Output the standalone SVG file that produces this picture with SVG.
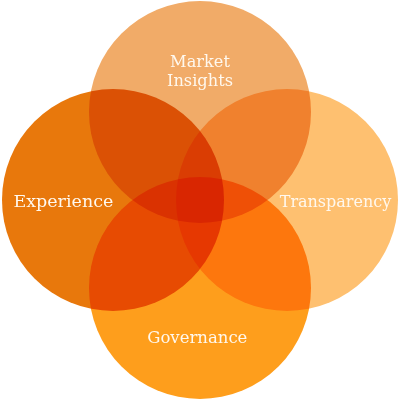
<svg xmlns="http://www.w3.org/2000/svg" width="400" height="400" viewBox="0 0 400 400">
<style>
.c{mix-blend-mode:multiply}
.t{font-family:"DejaVu Serif",serif;fill:#FFF8EE;text-anchor:middle}
</style>
<rect width="400" height="400" fill="#FFFFFF"/>
<g id="circles" style="isolation:isolate">
<g id="market"><circle class="c" cx="200" cy="112" r="111" fill="#F1AB68"/></g>
<g id="experience"><circle class="c" cx="113" cy="200" r="111" fill="#E8780C"/></g>
<g id="transparency"><circle class="c" cx="287" cy="200" r="111" fill="#FEC070"/></g>
<g id="governance"><circle class="c" cx="200" cy="288" r="111" fill="#FE9E1C"/></g>
</g>
<g id="labels">
<text class="t" x="200" y="67" font-size="16.2">Market</text>
<text class="t" x="200" y="86" font-size="16.2">Insights</text>
<text class="t" x="63.4" y="207" font-size="17.5">Experience</text>
<text class="t" x="335.5" y="207" font-size="16">Transparency</text>
<text class="t" x="197.3" y="343" font-size="16.5">Governance</text>
</g>
<g id="connectors"/>
</svg>
